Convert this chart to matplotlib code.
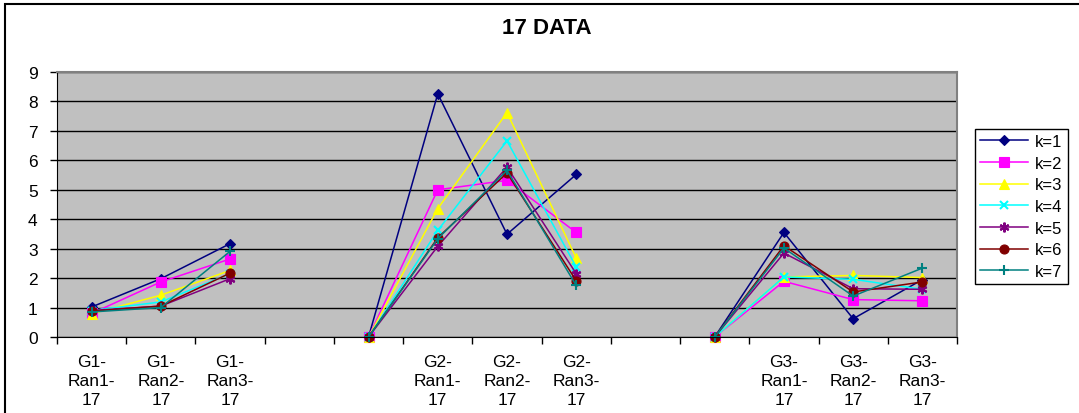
import numpy as np
import matplotlib
matplotlib.use("Agg")
import matplotlib.pyplot as plt
from matplotlib.patches import Rectangle

plt.rcParams['font.family'] = ['Liberation Sans', 'DejaVu Sans']

# categories (blank slots are gaps between groups)
categories = ["G1-\nRan1-\n17", "G1-\nRan2-\n17", "G1-\nRan3-\n17", "", "",
              "G2-\nRan1-\n17", "G2-\nRan2-\n17", "G2-\nRan3-\n17", "", "",
              "G3-\nRan1-\n17", "G3-\nRan2-\n17", "G3-\nRan3-\n17"]
nan = np.nan
k1 = [1.02, 1.98, 3.17, nan, 0, 8.26, 3.49, 5.52, nan, 0, 3.55, 0.62, 1.95]
k2 = [0.80, 1.87, 2.65, nan, 0, 5.00, 5.32, 3.55, nan, 0, 1.89, 1.27, 1.23]
k3 = [0.79, 1.42, 2.26, nan, 0, 4.36, 7.62, 2.68, nan, 0, 2.04, 2.09, 2.02]
k4 = [0.90, 1.19, 2.15, nan, 0, 3.62, 6.66, 2.38, nan, 0, 2.04, 1.96, 1.62]
k5 = [0.90, 1.05, 1.98, nan, 0, 3.08, 5.77, 2.15, nan, 0, 2.85, 1.64, 1.62]
k6 = [0.88, 1.05, 2.17, nan, 0, 3.37, 5.57, 1.91, nan, 0, 3.10, 1.53, 1.87]
k7 = [0.85, 1.00, 2.91, nan, 0, 3.34, 5.66, 1.75, nan, 0, 3.02, 1.39, 2.34]
series = [k1, k2, k3, k4, k5, k6, k7]
labels = ["k=1", "k=2", "k=3", "k=4", "k=5", "k=6", "k=7"]

colors = ["#000080", "#FF00FF", "#FFFF00", "#00FFFF", "#800080", "#800000", "#008080"]
markers = ["D", "s", "^", "x", (6, 2, 0), "o", "+"]
msizes = [5.5, 6.5, 7, 6, 7, 6.5, 7]

W, H = 1079, 414
fig = plt.figure(figsize=(W / 100, H / 100), dpi=100)
fig.patches.append(Rectangle((5 / W, -0.1), 1.2, 1 - 5 / H + 0.1, transform=fig.transFigure,
                             fill=False, edgecolor="black", linewidth=1.5))

ax = fig.add_axes([57 / W, (H - 338) / H, 900 / W, 265 / H])
ax.set_facecolor("#C0C0C0")
x = np.arange(len(categories))
for vals, lab, c, m, ms in zip(series, labels, colors, markers, msizes):
    ax.plot(x, vals, color=c, marker=m, markersize=ms, linewidth=1.1,
            markeredgewidth=1.5 if m in ("x", "+") or isinstance(m, tuple) else 0.8,
            markeredgecolor=c, label=lab, clip_on=False)

ax.set_xlim(-0.5, len(categories) - 0.5)
ax.set_ylim(0, 9)
ax.set_yticks(range(0, 10))
ax.set_yticklabels([str(i) for i in range(10)], fontsize=12.5)
ax.set_xticks(np.arange(-0.5, len(categories), 1.0))
ax.set_xticklabels([])
ax.set_xticks(x, minor=True)
ax.set_xticklabels(categories, minor=True, fontsize=12.5, linespacing=1.33)
ax.tick_params(axis="x", which="minor", length=0, pad=12)
ax.tick_params(axis="x", which="major", length=5, width=1, direction="out")
ax.tick_params(axis="y", length=5, width=1, direction="out", pad=9)
ax.grid(axis="y", color="black", linewidth=1)
ax.set_axisbelow(True)
for side in ["top", "right"]:
    ax.spines[side].set_color("#808080")
    ax.spines[side].set_linewidth(1.5)
ax.spines["left"].set_color("black")
ax.spines["bottom"].set_color("black")

fig.text(547 / W, 1 - 28 / H, "17 DATA", ha="center", va="center",
         fontsize=16, fontweight="bold")

leg = fig.legend(loc="upper left", bbox_to_anchor=(975 / W, 1 - 130 / H),
                 fontsize=12, frameon=True, fancybox=False, edgecolor="black",
                 framealpha=1, borderaxespad=0, handlelength=2.9, labelspacing=0.4,
                 handletextpad=0.4, borderpad=0.3)
leg.get_frame().set_linewidth(1)

fig.savefig("out.png", dpi=100)
